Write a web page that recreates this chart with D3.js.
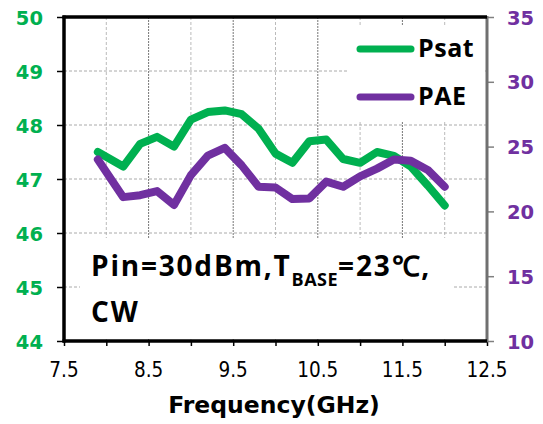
<!DOCTYPE html>
<html>
<head>
<meta charset="utf-8">
<script src="https://cdn.jsdelivr.net/npm/d3@7/dist/d3.min.js"></script>
<style>
  html, body { margin: 0; padding: 0; background: #fff; }
  svg { display: block; }
</style>
</head>
<body>
<svg id="chart" width="543" height="424"></svg>
<script>
// Frequency sweep (GHz)
const freq = [7.9, 8.2, 8.4, 8.6, 8.8, 9.0, 9.2, 9.4, 9.6, 9.8, 10.0, 10.2, 10.4, 10.6, 10.8, 11.0, 11.2, 11.4, 11.6, 11.8, 12.0];
// Saturated output power (dBm), left axis
const psat = [47.5, 47.23, 47.65, 47.78, 47.6, 48.1, 48.24, 48.27, 48.2, 47.93, 47.47, 47.3, 47.7, 47.73, 47.37, 47.3, 47.5, 47.43, 47.23, 46.88, 46.51];
// Power-added efficiency (%), right axis
const pae = [24.0, 21.1, 21.25, 21.57, 20.5, 22.8, 24.3, 24.9, 23.55, 21.9, 21.85, 20.95, 21.0, 22.3, 21.9, 22.7, 23.3, 24.0, 23.9, 23.2, 21.9];

const xTicks = [7.5, 8.5, 9.5, 10.5, 11.5, 12.5];
const xMinorTicks = [7.5, 8.0, 8.5, 9.0, 9.5, 10.0, 10.5, 11.0, 11.5, 12.0, 12.5];
const leftTicks = [44, 45, 46, 47, 48, 49, 50];
const rightTicks = [10, 15, 20, 25, 30, 35];

const GREEN = "#00b050";
const PURPLE = "#7030a0";

const svg = d3.select("#chart");
const L = 64, R = 487, T = 17, B = 341;

const x = d3.scaleLinear().domain([7.5, 12.5]).range([L, R]);
const yL = d3.scaleLinear().domain([44, 50]).range([B, T]);
const yR = d3.scaleLinear().domain([10, 35]).range([B, T]);

// Grid lines
const grid = svg.append("g");
grid.selectAll("line.vg")
  .data(xMinorTicks.filter(v => v > 7.5 && v < 12.5))
  .join("line")
  .attr("x1", d => x(d)).attr("x2", d => x(d))
  .attr("y1", T).attr("y2", B)
  .attr("stroke", d => (d % 1 === 0.5) ? "#777" : "#bbb")
  .attr("stroke-width", 1)
  .attr("stroke-dasharray", d => (d % 1 === 0.5) ? "2,1" : "3,2");
grid.selectAll("line.hg")
  .data(leftTicks.filter(v => v > 44 && v < 50))
  .join("line")
  .attr("x1", L).attr("x2", R)
  .attr("y1", d => yL(d)).attr("y2", d => yL(d))
  .attr("stroke", "#aaa")
  .attr("stroke-width", 1)
  .attr("stroke-dasharray", "3,2");

// White backing for the legend and the annotation
svg.append("rect").attr("x", 348).attr("y", 26).attr("width", 137).attr("height", 95).attr("fill", "#fff");
svg.append("rect").attr("x", 80).attr("y", 238).attr("width", 373).attr("height", 101).attr("fill", "#fff");

// Axes
const xAxis = d3.axisBottom(x).tickValues(xMinorTicks).tickSize(5).tickFormat("");
const gx = svg.append("g").attr("transform", `translate(0,${B})`).call(xAxis);
gx.select(".domain").remove();
gx.selectAll(".tick line").attr("stroke", "#000").attr("stroke-width", 1.5);

const gyl = svg.append("g").attr("transform", `translate(${L},0)`)
  .call(d3.axisLeft(yL).tickValues(leftTicks).tickSize(7).tickFormat(""));
gyl.select(".domain").remove();
gyl.selectAll(".tick line").attr("stroke", "#000").attr("stroke-width", 1.5);

const gyr = svg.append("g").attr("transform", `translate(${R},0)`)
  .call(d3.axisRight(yR).tickValues(rightTicks).tickSize(7).tickFormat(""));
gyr.select(".domain").remove();
gyr.selectAll(".tick line").attr("stroke", "#808080").attr("stroke-width", 1.5);

// Frame
svg.append("line").attr("x1", R).attr("x2", R).attr("y1", T - 1).attr("y2", B + 1)
  .attr("stroke", "#707070").attr("stroke-width", 3);
svg.append("line").attr("x1", L - 1.5).attr("x2", R).attr("y1", T).attr("y2", T)
  .attr("stroke", "#000").attr("stroke-width", 3.5);
svg.append("line").attr("x1", L - 1.5).attr("x2", R).attr("y1", B).attr("y2", B)
  .attr("stroke", "#000").attr("stroke-width", 3.5);
svg.append("line").attr("x1", L).attr("x2", L).attr("y1", T - 1.5).attr("y2", B + 1.5)
  .attr("stroke", "#000").attr("stroke-width", 3.5);

// Tick labels
svg.append("g").selectAll("text").data(xTicks).join("text")
  .attr("x", d => x(d)).attr("y", 377)
  .attr("text-anchor", "middle")
  .attr("font-family", "'DejaVu Sans Condensed', 'Liberation Sans', sans-serif")
  .attr("font-size", 20.5)
  .attr("fill", "#000")
  .text(d => d.toFixed(1));

svg.append("g").selectAll("text").data(leftTicks).join("text")
  .attr("x", 43).attr("y", d => yL(d) + 7.5)
  .attr("text-anchor", "end")
  .attr("font-family", "'DejaVu Sans', sans-serif")
  .attr("font-weight", "bold")
  .attr("font-size", 19.5)
  .attr("fill", GREEN)
  .text(d => d);

svg.append("g").selectAll("text").data(rightTicks).join("text")
  .attr("x", 507).attr("y", d => yR(d) + 7.5)
  .attr("text-anchor", "start")
  .attr("font-family", "'DejaVu Sans', sans-serif")
  .attr("font-weight", "bold")
  .attr("font-size", 19.5)
  .attr("fill", PURPLE)
  .text(d => d);

// Axis title
svg.append("text")
  .attr("x", 274).attr("y", 413)
  .attr("text-anchor", "middle")
  .attr("font-family", "'DejaVu Sans', sans-serif")
  .attr("font-weight", "bold")
  .attr("font-size", 23.5)
  .attr("fill", "#000")
  .text("Frequency(GHz)");

// Data lines
const lineL = d3.line().x((d, i) => x(freq[i])).y(d => yL(d));
const lineR = d3.line().x((d, i) => x(freq[i])).y(d => yR(d));

svg.append("path").datum(psat).attr("d", lineL)
  .attr("fill", "none").attr("stroke", GREEN).attr("stroke-width", 8)
  .attr("stroke-linejoin", "round").attr("stroke-linecap", "round");
svg.append("path").datum(pae).attr("d", lineR)
  .attr("fill", "none").attr("stroke", PURPLE).attr("stroke-width", 8)
  .attr("stroke-linejoin", "round").attr("stroke-linecap", "round");

// Legend
const legend = [{ name: "Psat", color: GREEN, y: 49 }, { name: "PAE", color: PURPLE, y: 97 }];
const lg = svg.append("g");
lg.selectAll("line").data(legend).join("line")
  .attr("x1", 360).attr("x2", 411)
  .attr("y1", d => d.y).attr("y2", d => d.y)
  .attr("stroke", d => d.color).attr("stroke-width", 7).attr("stroke-linecap", "round");
lg.selectAll("text").data(legend).join("text")
  .attr("x", 418).attr("y", d => d.y + 8)
  .attr("font-family", "'Open Sans', sans-serif")
  .attr("font-weight", "bold")
  .attr("font-size", 25)
  .attr("letter-spacing", 0.5)
  .attr("fill", "#000")
  .text(d => d.name);

// Test-condition annotation
const note = svg.append("text")
  .attr("x", 91).attr("y", 276)
  .attr("font-family", "'Open Sans', sans-serif")
  .attr("font-weight", "bold")
  .attr("font-size", 28)
  .attr("letter-spacing", 1.8)
  .attr("fill", "#000");
note.append("tspan").text("Pin=30dBm,T");
note.append("tspan").attr("dy", 10).attr("font-size", 18).attr("letter-spacing", 0.5).text("BASE");
note.append("tspan").attr("dy", -10).text("=23℃,");
svg.append("text")
  .attr("x", 91).attr("y", 322)
  .attr("font-family", "'Open Sans', sans-serif")
  .attr("font-weight", "bold")
  .attr("font-size", 28)
  .attr("letter-spacing", 1.8)
  .attr("fill", "#000")
  .text("CW");
</script>
</body>
</html>
